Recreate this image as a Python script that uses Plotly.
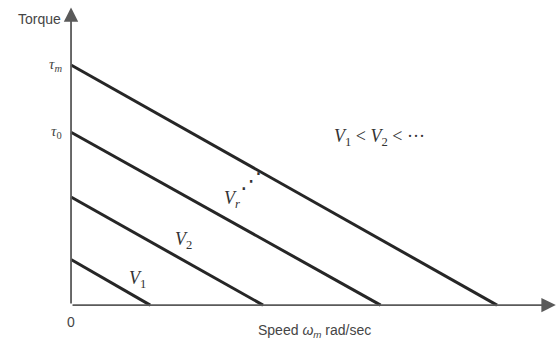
import plotly.graph_objects as go

# Torque-speed lines of a DC motor for increasing armature voltage
curve_names = ["V1", "V2", "Vr", "Vm"]
stall_torque = [0.19, 0.45, 0.72, 1.0]      # torque at zero speed (normalised to tau_m)
no_load_speed = [0.33, 0.80, 1.29, 1.775]   # speed at zero torque (same units)

fig = go.Figure()

for name, t0, w0 in zip(curve_names, stall_torque, no_load_speed):
    fig.add_trace(go.Scatter(
        x=[0, w0], y=[t0, 0], mode="lines", name=name,
        line=dict(color="#262626", width=3), showlegend=False,
        hoverinfo="skip",
    ))

axis_col = "#5a5a5a"
# axes with arrowheads
fig.add_annotation(x=0, y=1.24, ax=0, ay=0, axref="x", ayref="y", xref="x", yref="y",
                   text="", showarrow=True, arrowhead=2, arrowsize=1.6,
                   arrowwidth=1.8, arrowcolor=axis_col, standoff=0, startstandoff=0)
fig.add_annotation(x=2.02, y=0, ax=0, ay=0, axref="x", ayref="y", xref="x", yref="y",
                   text="", showarrow=True, arrowhead=2, arrowsize=1.6,
                   arrowwidth=1.8, arrowcolor=axis_col, standoff=0, startstandoff=0)

label_font = dict(family="Liberation Sans, Arial", size=14, color="#454545")
serif = dict(family="Liberation Serif, DejaVu Serif", size=18, color="#333333")
tau_font = dict(family="Liberation Serif", size=15, color="#454545")

fig.add_annotation(x=-0.035, y=1.19, text="Torque", showarrow=False, xanchor="right",
                   font=label_font)
fig.add_annotation(x=-0.03, y=1.0, text="<i>τ</i><sub><i>m</i></sub>", showarrow=False,
                   xanchor="right", font=tau_font)
fig.add_annotation(x=-0.03, y=0.72, text="<i>τ</i><sub>0</sub>", showarrow=False,
                   xanchor="right", font=tau_font)
fig.add_annotation(x=0.0, y=-0.07, text="0", showarrow=False, xanchor="center",
                   font=label_font)
fig.add_annotation(x=1.015, y=-0.11, text="Speed <i>ω</i><sub><i>m</i></sub> rad/sec",
                   showarrow=False, xanchor="center", font=label_font)

fig.add_annotation(x=0.275, y=0.105, text="<i>V</i><sub>1</sub>", showarrow=False, font=serif)
fig.add_annotation(x=0.47, y=0.27, text="<i>V</i><sub>2</sub>", showarrow=False, font=serif)
fig.add_annotation(x=0.67, y=0.44, text="<i>V</i><sub><i>r</i></sub>", showarrow=False, font=serif)
fig.add_annotation(x=0.75, y=0.52, text="⋰", showarrow=False,
                   font=dict(family="DejaVu Sans", size=22, color="#333333"))
fig.add_annotation(x=1.285, y=0.70, text="<i>V</i><sub>1</sub> &lt; <i>V</i><sub>2</sub> &lt; ···",
                   showarrow=False, font=serif)

fig.update_xaxes(range=[-0.296, 2.025], visible=False, fixedrange=True)
fig.update_yaxes(range=[-0.158, 1.271], visible=False, fixedrange=True)
fig.update_layout(
    width=557, height=343, margin=dict(l=0, r=0, t=0, b=0),
    plot_bgcolor="white", paper_bgcolor="white",
)

fig.write_html("out.html")
